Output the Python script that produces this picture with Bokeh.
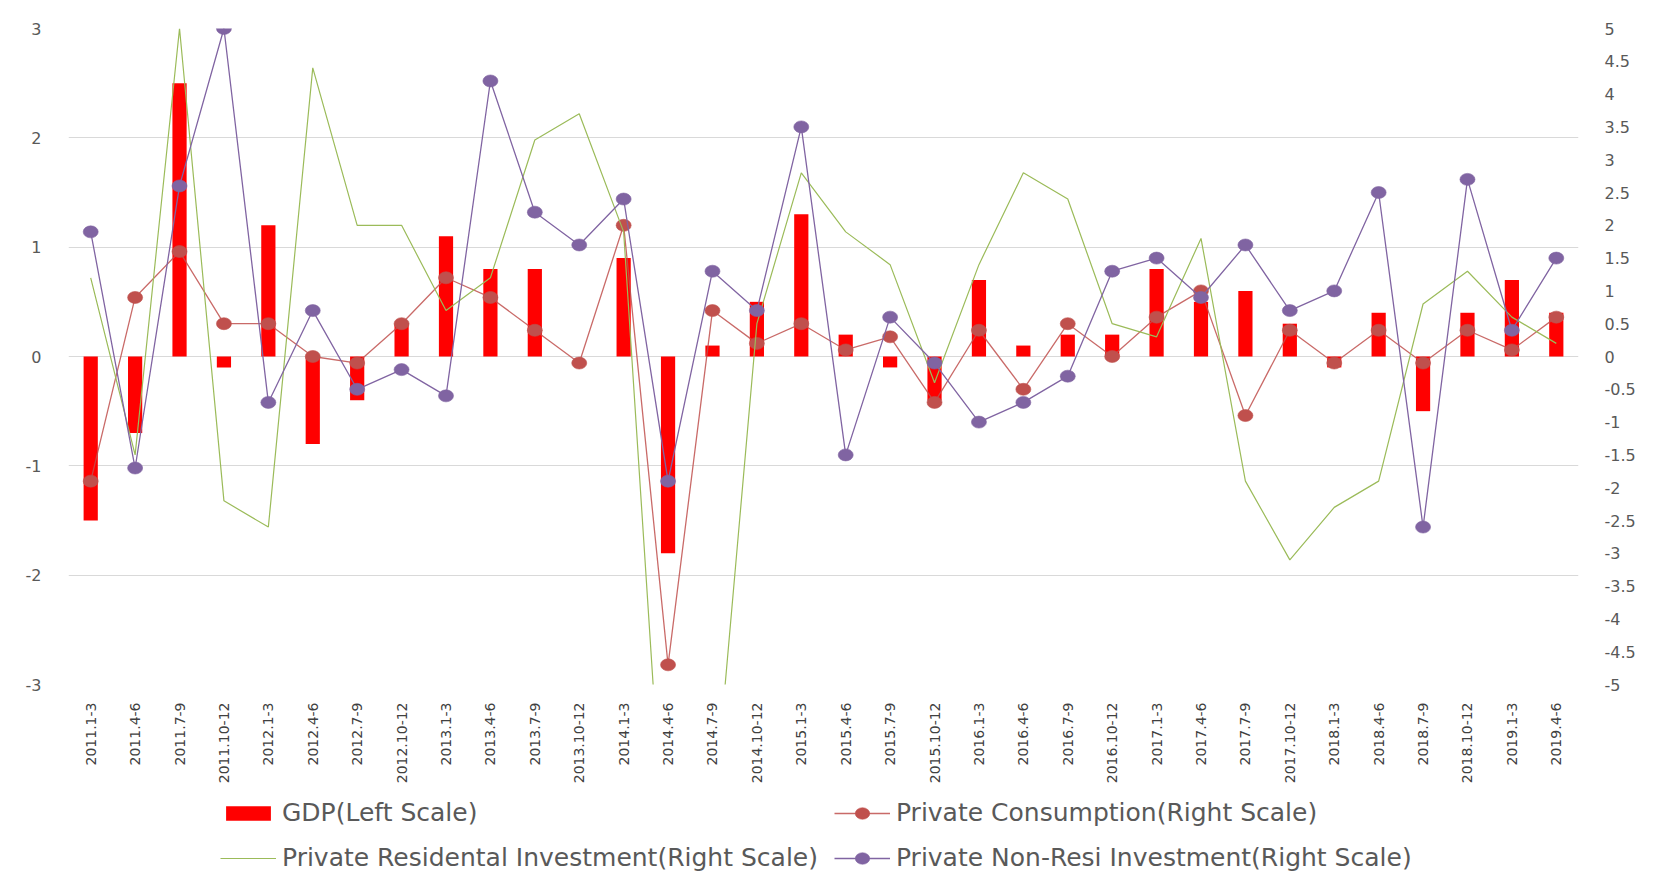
import math
from bokeh.plotting import figure
from bokeh.layouts import column
from bokeh.models import (FactorRange, Range1d, LinearAxis, FixedTicker,
                          NumeralTickFormatter, Legend, LegendItem, ColumnDataSource)
from bokeh.embed import file_html
from bokeh.resources import INLINE

# ---------------- data ----------------
categories = ["2011.1-3", "2011.4-6", "2011.7-9", "2011.10-12",
              "2012.1-3", "2012.4-6", "2012.7-9", "2012.10-12",
              "2013.1-3", "2013.4-6", "2013.7-9", "2013.10-12",
              "2014.1-3", "2014.4-6", "2014.7-9", "2014.10-12",
              "2015.1-3", "2015.4-6", "2015.7-9", "2015.10-12",
              "2016.1-3", "2016.4-6", "2016.7-9", "2016.10-12",
              "2017.1-3", "2017.4-6", "2017.7-9", "2017.10-12",
              "2018.1-3", "2018.4-6", "2018.7-9", "2018.10-12",
              "2019.1-3", "2019.4-6"]

gdp = [-1.5, -0.7, 2.5, -0.1, 1.2, -0.8, -0.4, 0.3, 1.1, 0.8, 0.8, 0.0,
       0.9, -1.8, 0.1, 0.5, 1.3, 0.2, -0.1, -0.4, 0.7, 0.1, 0.2, 0.2,
       0.8, 0.5, 0.6, 0.3, -0.1, 0.4, -0.5, 0.4, 0.7, 0.4]

consumption = [-1.9, 0.9, 1.6, 0.5, 0.5, 0.0, -0.1, 0.5, 1.2, 0.9, 0.4, -0.1,
               2.0, -4.7, 0.7, 0.2, 0.5, 0.1, 0.3, -0.7, 0.4, -0.5, 0.5, 0.0,
               0.6, 1.0, -0.9, 0.4, -0.1, 0.4, -0.1, 0.4, 0.1, 0.6]

residential = [1.2, -1.5, 5.0, -2.2, -2.6, 4.4, 2.0, 2.0, 0.7, 1.2, 3.3, 3.7,
               1.9, -8.5, -7.2, 0.5, 2.8, 1.9, 1.4, -0.4, 1.4, 2.8, 2.4, 0.5,
               0.3, 1.8, -1.9, -3.1, -2.3, -1.9, 0.8, 1.3, 0.6, 0.2]

nonresi = [1.9, -1.7, 2.6, 5.0, -0.7, 0.7, -0.5, -0.2, -0.6, 4.2, 2.2, 1.7,
           2.4, -1.9, 1.3, 0.7, 3.5, -1.5, 0.6, -0.1, -1.0, -0.7, -0.3, 1.3,
           1.5, 0.9, 1.7, 0.7, 1.0, 2.5, -2.6, 2.7, 0.4, 1.5]

left_ticks = [-3, -2, -1, 0, 1, 2, 3]
right_ticks = [-5, -4.5, -4, -3.5, -3, -2.5, -2, -1.5, -1, -0.5, 0,
               0.5, 1, 1.5, 2, 2.5, 3, 3.5, 4, 4.5, 5]

series_labels = ["GDP(Left Scale)", "Private Consumption(Right Scale)",
                 "Private Residental Investment(Right Scale)",
                 "Private Non-Resi Investment(Right Scale)"]

RED_BAR = "#FF0000"
RED = "#C0504D"
GREEN = "#9BBB59"
PURPLE = "#8064A2"
TICK_FONT = "DejaVu Sans"

# ---------------- main figure ----------------
src = ColumnDataSource(dict(cat=categories, gdp=gdp, cons=consumption,
                            res=residential, nonres=nonresi))

p = figure(x_range=FactorRange(factors=categories), y_range=Range1d(-3, 3),
           width=1639, height=786, output_backend="svg", toolbar_location=None,
           min_border_left=68, min_border_right=61, min_border_top=28,
           min_border_bottom=100)
p.extra_y_ranges = {"right": Range1d(-5, 5)}
p.background_fill_color = "white"
p.border_fill_color = "white"
p.outline_line_color = None

ya = p.yaxis[0]
ya.ticker = FixedTicker(ticks=left_ticks)
ya.formatter = NumeralTickFormatter(format="0")
ya.axis_line_color = None
ya.major_tick_line_color = None
ya.minor_tick_line_color = None
ya.major_label_standoff = 21
ya.major_label_text_font = TICK_FONT
ya.major_label_text_font_size = "16px"
ya.major_label_text_color = "#595959"

ra = LinearAxis(y_range_name="right", ticker=FixedTicker(ticks=right_ticks),
                formatter=NumeralTickFormatter(format="0.[0]"))
ra.axis_line_color = None
ra.major_tick_line_color = None
ra.minor_tick_line_color = None
ra.major_label_standoff = 20
ra.major_label_text_font = TICK_FONT
ra.major_label_text_font_size = "16px"
ra.major_label_text_color = "#595959"
p.add_layout(ra, "right")

xa = p.xaxis[0]
xa.axis_line_color = None
xa.major_tick_line_color = None
xa.minor_tick_line_color = None
xa.major_label_orientation = math.pi / 2
xa.major_label_standoff = 12
xa.major_label_text_font = TICK_FONT
xa.major_label_text_font_size = "14px"
xa.major_label_text_color = "#404040"

p.xgrid.visible = False
p.ygrid.ticker = FixedTicker(ticks=left_ticks)
p.ygrid.grid_line_color = "#D9D9D9"
p.ygrid.grid_line_width = 1

p.vbar(x="cat", top="gdp", width=0.32, source=src,
       fill_color=RED_BAR, line_color=None)
p.line("cat", "cons", source=src, y_range_name="right",
       line_color=RED, line_width=1.3, line_alpha=0.85)
p.ellipse("cat", "cons", source=src, y_range_name="right",
          width=15, height=12, width_units="screen", height_units="screen",
          fill_color=RED, line_color=RED, line_alpha=0.6)
p.line("cat", "res", source=src, y_range_name="right",
       line_color=GREEN, line_width=1.2)
p.line("cat", "nonres", source=src, y_range_name="right",
       line_color=PURPLE, line_width=1.3)
p.ellipse("cat", "nonres", source=src, y_range_name="right",
          width=15, height=12, width_units="screen", height_units="screen",
          fill_color=PURPLE, line_color=PURPLE, line_alpha=0.6)

# ---------------- legend strip ----------------
q = figure(width=1639, height=88, x_range=Range1d(0, 1), y_range=Range1d(0, 1),
           output_backend="svg", toolbar_location=None,
           x_axis_location=None, y_axis_location=None,
           min_border_left=68, min_border_right=61, min_border_top=0, min_border_bottom=0)
q.grid.visible = False
q.outline_line_color = None
q.background_fill_color = "white"
q.border_fill_color = "white"

# legend-only swatch renderers with no drawable position
nan = float("nan")
off = dict(x=[nan], y=[nan])
sw_bar = q.vbar(x=off["x"], top=off["y"], width=0.1, fill_color=RED_BAR, line_color=None)
sw_cons_l = q.line(off["x"], off["y"], line_color=RED, line_width=1.3, line_alpha=0.85)
sw_cons_m = q.ellipse(off["x"], off["y"], width=15, height=12, width_units="screen",
                      height_units="screen", fill_color=RED, line_color=RED, line_alpha=0.6)
sw_res = q.line(off["x"], off["y"], line_color=GREEN, line_width=1.2)
sw_nr_l = q.line(off["x"], off["y"], line_color=PURPLE, line_width=1.3)
sw_nr_m = q.ellipse(off["x"], off["y"], width=15, height=12, width_units="screen",
                    height_units="screen", fill_color=PURPLE, line_color=PURPLE, line_alpha=0.6)

legend = Legend(items=[
    LegendItem(label=series_labels[0], renderers=[sw_bar]),
    LegendItem(label=series_labels[1], renderers=[sw_cons_l, sw_cons_m]),
    LegendItem(label=series_labels[2], renderers=[sw_res]),
    LegendItem(label=series_labels[3], renderers=[sw_nr_l, sw_nr_m]),
], location=(152, 2), orientation="horizontal", ncols=2)
legend.padding = 0
legend.margin = 0
legend.spacing = 16
legend.border_line_color = None
legend.background_fill_alpha = 0
legend.glyph_width = 56
legend.glyph_height = 18
legend.label_height = 20
legend.label_standoff = 6
legend.label_text_font = TICK_FONT
legend.label_text_font_size = "25px"
legend.label_text_color = "#595959"
legend.label_text_baseline = "middle"
q.add_layout(legend)

layout = column(p, q, spacing=0)
open("out.html", "w").write(file_html(layout, INLINE))
